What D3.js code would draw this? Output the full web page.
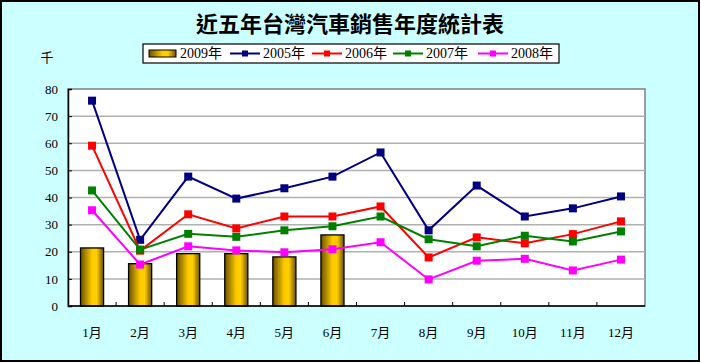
<html>
<head>
<meta charset="utf-8">
<script src="https://d3js.org/d3.v7.min.js"></script>
<style>
  body { margin:0; background:#fff; }
  text { font-family:"Liberation Serif","Noto Sans CJK TC",serif; font-size:13px; fill:#000; }
  .title { font-family:"Noto Sans CJK TC",sans-serif; font-size:22px; font-weight:bold; }
  .cjk { font-family:"Noto Sans CJK TC",sans-serif; }
  .lg text { font-size:14px; }
</style>
</head>
<body>
<script>
// 月份 + 資料 (千輛)
var months = ["1月","2月","3月","4月","5月","6月","7月","8月","9月","10月","11月","12月"];
var yTicks = [0,10,20,30,40,50,60,70,80];

var sales2009 = [21.4,15.6,19.3,19.3,18.1,26.2];
var sales2005 = [75.7,24.4,47.7,39.6,43.4,47.7,56.6,27.9,44.4,33.0,36.0,40.4];
var sales2006 = [59.1,20.4,33.8,28.6,33.0,33.0,36.7,17.9,25.3,23.1,26.5,31.2];
var sales2007 = [42.6,20.8,26.6,25.5,27.9,29.4,33.0,24.6,22.0,25.9,23.8,27.5];
var sales2008 = [35.3,15.3,22.0,20.5,19.8,20.9,23.5,9.8,16.7,17.4,13.1,17.1];

var lineSeries = [
  {name:"2005年", color:"#000080", values:sales2005},
  {name:"2006年", color:"#ff0000", values:sales2006},
  {name:"2007年", color:"#008000", values:sales2007},
  {name:"2008年", color:"#ff00ff", values:sales2008}
];

var W = 701, H = 363;
var svg = d3.select("body").append("svg").attr("width", W).attr("height", H);

// 漸層 (長條)
var grad = svg.append("defs").append("linearGradient").attr("id","gold")
  .attr("x1","0%").attr("x2","100%").attr("y1","0%").attr("y2","0%");
grad.append("stop").attr("offset","0%").attr("stop-color","#6b5200");
grad.append("stop").attr("offset","50%").attr("stop-color","#ffcc00");
grad.append("stop").attr("offset","70%").attr("stop-color","#ffcc00");
grad.append("stop").attr("offset","100%").attr("stop-color","#6b5200");

svg.append("rect").attr("x",1).attr("y",1).attr("width",W-3).attr("height",H-3)
  .attr("fill","#ccffff").attr("stroke","#000").attr("stroke-width",2);

var pL = 68, pR = 645, pT = 89, pB = 306;

var x = d3.scaleBand().domain(months).range([pL, pR]);
var y = d3.scaleLinear().domain([0,80]).range([pB, pT]);

svg.append("rect").attr("x",pL).attr("y",pT).attr("width",pR-pL).attr("height",pB-pT)
  .attr("fill","#fff").attr("stroke","#808080").attr("stroke-width",1.5);

// 格線
svg.append("g").selectAll("line").data(yTicks.filter(function(d){return d>0 && d<80;}))
  .enter().append("line")
  .attr("x1",pL).attr("x2",pR)
  .attr("y1",function(d){return y(d);}).attr("y2",function(d){return y(d);})
  .attr("stroke","#b0b0b0").attr("stroke-width",1.5);

// 長條 2009
var bw = x.bandwidth()*0.48;
svg.append("g").selectAll("rect").data(sales2009).enter().append("rect")
  .attr("x",function(d,i){return x(months[i]) + (x.bandwidth()-bw)/2;})
  .attr("y",function(d){return y(d);})
  .attr("width",bw)
  .attr("height",function(d){return pB - y(d);})
  .attr("fill","url(#gold)").attr("stroke","#000").attr("stroke-width",1.3);

// 座標軸
var yAxis = svg.append("g").attr("transform","translate("+pL+",0)")
  .call(d3.axisLeft(y).tickValues(yTicks).tickSize(-4).tickPadding(10));
yAxis.select(".domain").attr("stroke","#000").attr("stroke-width",1.5);
yAxis.selectAll("text").attr("font-size",null).attr("font-family",null).style("font-size","13px");

var xAxis = svg.append("g").attr("transform","translate(0,"+pB+")");
xAxis.append("line").attr("x1",pL).attr("x2",pR).attr("stroke","#000").attr("stroke-width",1.5);
xAxis.selectAll(".tk").data(months.slice(1)).enter().append("line")
  .attr("x1",function(d){return x(d);}).attr("x2",function(d){return x(d);})
  .attr("y1",0).attr("y2",-4).attr("stroke","#000");
xAxis.selectAll(".lbl").data(months).enter().append("text")
  .attr("x",function(d){return x(d)+x.bandwidth()/2;})
  .attr("y",31).attr("text-anchor","middle").text(function(d){return d;});

// 折線
var line = d3.line()
  .x(function(d,i){return x(months[i]) + x.bandwidth()/2;})
  .y(function(d){return y(d);});

lineSeries.forEach(function(s){
  svg.append("path").datum(s.values).attr("d",line)
    .attr("fill","none").attr("stroke",s.color).attr("stroke-width",2);
  svg.append("g").selectAll("rect").data(s.values).enter().append("rect")
    .attr("x",function(d,i){return x(months[i]) + x.bandwidth()/2 - 4;})
    .attr("y",function(d){return y(d)-4;})
    .attr("width",8).attr("height",8).attr("fill",s.color);
});

// 標題
svg.append("text").attr("class","title").attr("x",350).attr("y",32)
  .attr("text-anchor","middle").text("近五年台灣汽車銷售年度統計表");
svg.append("text").attr("class","cjk").attr("x",47).attr("y",62)
  .attr("text-anchor","middle").text("千");

// 圖例
var lg = svg.append("g").attr("class","lg");
lg.append("rect").attr("x",143).attr("y",44).attr("width",416).attr("height",19)
  .attr("fill","#fff").attr("stroke","#000").attr("stroke-width",1.2);
lg.append("rect").attr("x",149).attr("y",50).attr("width",27).attr("height",7)
  .attr("fill","url(#gold)").attr("stroke","#000");
lg.append("text").attr("x",180).attr("y",58).text("2009年");
var lx = [230, 312, 393, 478];
lineSeries.forEach(function(s,i){
  lg.append("line").attr("x1",lx[i]).attr("x2",lx[i]+30).attr("y1",53.5).attr("y2",53.5)
    .attr("stroke",s.color).attr("stroke-width",2);
  lg.append("rect").attr("x",lx[i]+12).attr("y",50.5).attr("width",6).attr("height",6).attr("fill",s.color);
  lg.append("text").attr("x",lx[i]+33).attr("y",58).text(s.name);
});
</script>
</body>
</html>
